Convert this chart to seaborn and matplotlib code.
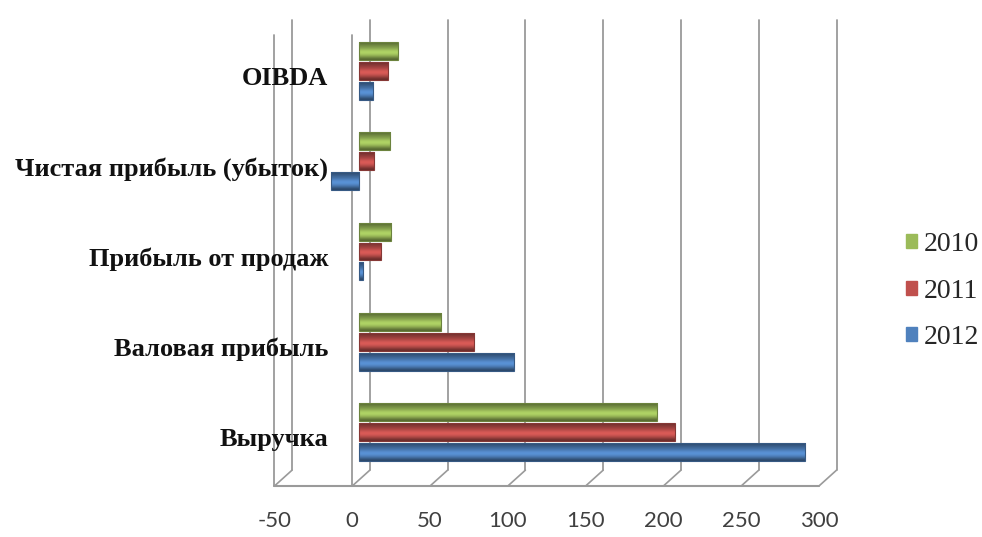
import pandas as pd
import seaborn as sns
import matplotlib.pyplot as plt
import matplotlib.transforms as mtransforms
import numpy as np

categories = ['OIBDA', 'Чистая прибыль (убыток)', 'Прибыль от продаж',
              'Валовая прибыль', 'Выручка']
years = ['2010', '2011', '2012']
v2010 = [25, 20, 21, 53, 192]
v2011 = [19, 10, 14, 74, 203]
v2012 = [9, -18, 3, 100, 287]
ticks = [-50, 0, 50, 100, 150, 200, 250, 300]
colors = ['#9BBB59', '#C0504D', '#4F81BD']

df = pd.DataFrame({
    'category': categories * 3,
    'year': [y for y in years for _ in categories],
    'value': v2010 + v2011 + v2012,
})

sns.set_theme(style='white')
plt.rcParams['font.family'] = ['Liberation Serif', 'DejaVu Serif']

W, H = 982, 537
fig = plt.figure(figsize=(W / 100, H / 100), dpi=100)
ax = fig.add_axes([281 / W, (H - 486) / H, 544.5 / W, 466 / H])

sns.barplot(data=df, y='category', x='value', hue='year', order=categories,
            hue_order=years, palette=colors, orient='h', width=0.66, gap=0.1,
            ax=ax, legend=False, saturation=1, edgecolor='none')

# cylinder-like shading on each bar
shade = np.array([0.55, 0.75, 0.95, 1.1, 1.15, 1.05, 0.9, 0.8, 0.7, 0.6])
for patch in list(ax.patches):
    x0, y0 = patch.get_x(), patch.get_y()
    w, h = patch.get_width(), patch.get_height()
    if w == 0:
        continue
    base = np.array(patch.get_facecolor()[:3])
    grad = np.clip(base[None, :] * shade[:, None], 0, 1)[:, None, :]
    im = ax.imshow(grad, extent=[x0, x0 + w, y0, y0 + h], aspect='auto',
                   interpolation='bicubic', zorder=patch.get_zorder() + 0.1)
    im.set_clip_path(patch)
    ax.add_patch(plt.Rectangle((x0, y0), w, h, fill=False,
                               edgecolor=base * 0.7, lw=0.8,
                               zorder=patch.get_zorder() + 0.2))

ax.set_xlim(-50, 300)
ax.set_ylim(4.598, -0.565)

# pseudo 3D walls and floor
xt = ax.get_xaxis_transform()
front, back, depth = -4.2, 7.1, 0.034
gcol = '#9a9a9a'
for v in ticks:
    ax.plot([v + back, v + back], [depth, 1], color=gcol, lw=1.3,
            transform=xt, clip_on=False, zorder=0)
    ax.plot([v + front, v + back], [0, depth], color=gcol, lw=1.2,
            transform=xt, clip_on=False, zorder=0)
for v in ticks[:2]:
    ax.plot([v + front, v + front], [0, 0.968], color=gcol, lw=1.3,
            transform=xt, clip_on=False, zorder=0)
ax.plot([ticks[0] + front, ticks[-1] + front], [0, 0], color=gcol, lw=1.5,
        transform=xt, clip_on=False, zorder=0)

for s in ax.spines.values():
    s.set_visible(False)

ax.set_xticks(ticks)
ax.set_xticklabels([str(t) for t in ticks], family='Lato', fontsize=16,
                   color='#404040')
ax.tick_params(axis='x', length=0, pad=18)
for lbl in ax.get_xticklabels():
    lbl.set_transform(lbl.get_transform() + mtransforms.ScaledTranslation(
        -6.5 / 100, 0, fig.dpi_scale_trans))

ax.set_yticks(range(len(categories)))
ax.set_yticklabels(categories, fontsize=19, fontweight='bold', color='#111111')
ax.tick_params(axis='y', length=0, pad=-34)
for lbl in ax.get_yticklabels():
    lbl.set_transform(lbl.get_transform() + mtransforms.ScaledTranslation(
        0, -5 / 100, fig.dpi_scale_trans))
ax.set_xlabel('')
ax.set_ylabel('')

handles = [plt.Rectangle((0, 0), 1, 1, color=c) for c in colors]
fig.legend(handles, years, loc='upper left',
           bbox_to_anchor=(881 / W, 1 - 207 / H), frameon=False,
           fontsize=20, handlelength=0.4, handleheight=0.4,
           handletextpad=0.25, labelspacing=0.78)

fig.savefig('out.png', dpi=100)
